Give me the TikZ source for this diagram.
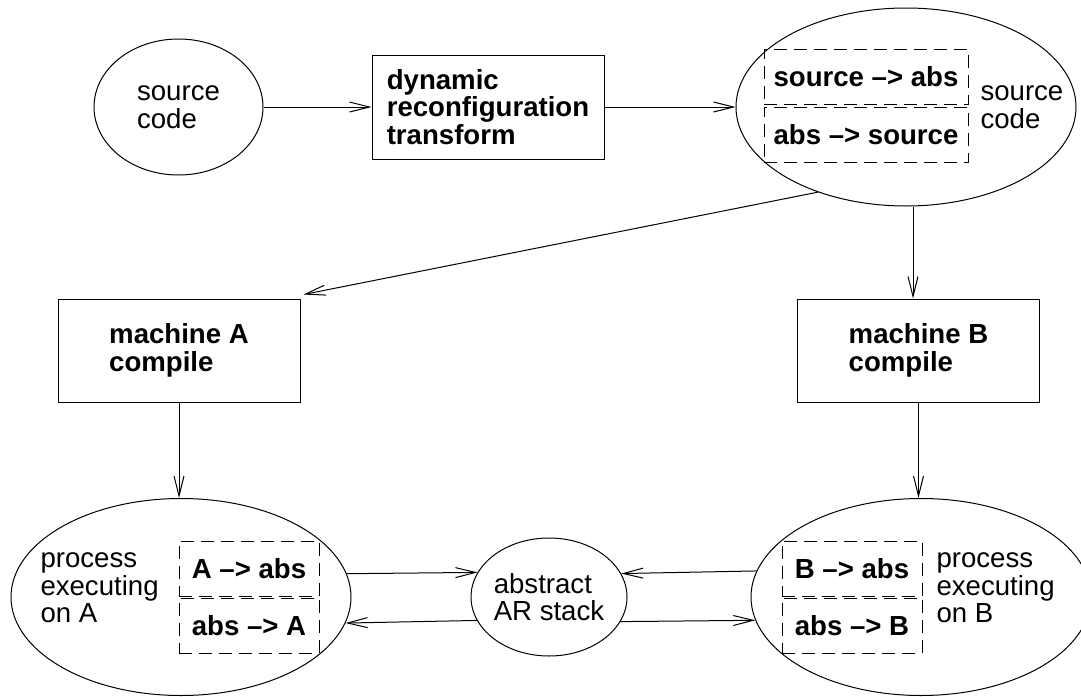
\documentclass[tikz,border=0pt]{standalone}
\usepackage{fontspec}
\setmainfont{Liberation Sans}
\usetikzlibrary{shapes.geometric,arrows.meta}

\newcommand{\figfont}{\fontsize{13.8pt}{13.75pt}\selectfont}

\tikzset{
    blob/.style={draw, ellipse, inner sep=0pt},
    stage/.style={draw, rectangle, align=left, font=\figfont\bfseries},
    half/.style={draw, dash pattern=on 6.5pt off 3.5pt, minimum width=#1, minimum height=27.5pt, inner sep=0pt, font=\figfont\bfseries},
    half/.default=70pt,
    note/.style={anchor=west, inner sep=0pt, align=left},
    arr/.style={-{Straight Barb[length=10pt,width=5pt]}},
}

\begin{document}
\begin{tikzpicture}[x=0.5pt, y=-0.5pt, line width=0.5pt, every node/.style={font=\figfont}]
    \useasboundingbox (0,0) rectangle (1081,696);
    % top row
    \node[blob, minimum width=84.5pt, minimum height=68pt, align=left] (src) at (178.5,107) {source\\code};
    \node[stage, minimum width=116pt, minimum height=52pt] (drt) at (488,107) {dynamic\\reconfiguration\\transform};
    \node[blob, minimum width=170pt, minimum height=99pt] (out) at (906,107) {};
    \node[half=102pt] (toabs) at (866,76.5) {source \textendash> abs};
    \node[half=102pt] (fromabs) at (866,134.5) {abs \textendash> source};
    \node[note] (outnote) at (980,107) {source\\code};
    % compilers
    \node[stage, minimum width=121pt, minimum height=51.5pt] (machA) at (179,350.5) {machine A\\compile};
    \node[stage, minimum width=121pt, minimum height=51.5pt] (machB) at (918.5,350.5) {machine B\\compile};
    % processes
    \node[blob, minimum width=170pt, minimum height=98.5pt] (procA) at (181,597) {};
    \node[half] (aToAbs) at (249,568.5) {A \textendash> abs};
    \node[half] (absToA) at (249,625.5) {abs \textendash> A};
    \node[note] (procAnote) at (40,588) {process\\executing\\on A};
    \node[blob, minimum width=170pt, minimum height=98.5pt] (procB) at (921,597) {};
    \node[half] (bToAbs) at (852,568.5) {B \textendash> abs};
    \node[half] (absToB) at (852,625.5) {abs \textendash> B};
    \node[note] (procBnote) at (936,588) {process\\executing\\on B};
    \node[blob, inner xsep=-2pt, minimum width=78pt, minimum height=59pt, align=left] (stack) at (549,597) {abstract\\AR stack};
    \coordinate (tipB) at ([xshift=-2.75pt]machB.north);

    \draw[arr] (src) -- (drt);
    \draw[arr] (drt) -- (out);
    \draw[arr] (out.224) -- ([shift={(1.5pt,2pt)}]machA.north east);
    \draw[arr] (tipB |- out.south) -- (tipB);
    \draw[arr] (machA.south) -- (machA.south |- procA.north);
    \draw[arr] (machB.south) -- (machB.south |- procB.north);
    \draw[arr] (procA.8.3) -- (stack.161.4);
    \draw[arr] (procB.171.7) -- (stack.18.6);
    \draw[arr] (stack.198.6) -- (procA.351.7);
    \draw[arr] (stack.341.4) -- (procB.188.3);
\end{tikzpicture}
\end{document}
